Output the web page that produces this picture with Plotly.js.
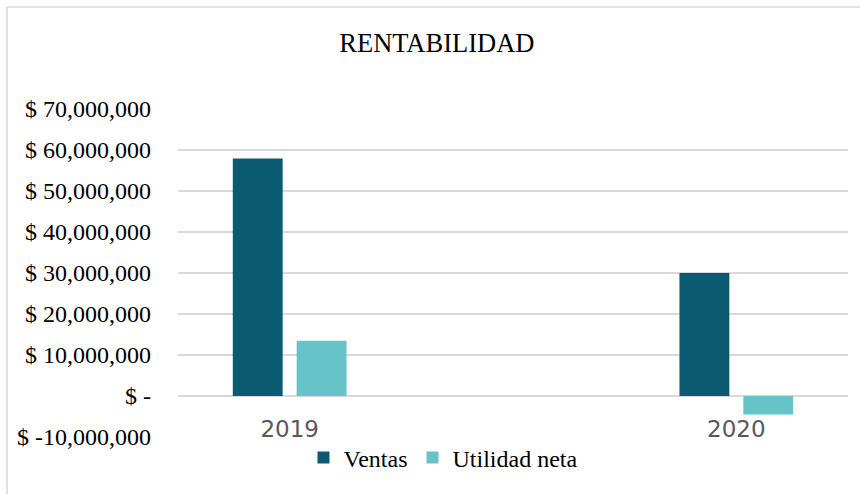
<!DOCTYPE html>
<html>
<head>
<meta charset="utf-8">
<script src="https://cdn.plot.ly/plotly-3.0.1.min.js"></script>
<style>
  html, body { margin: 0; padding: 0; background: #ffffff; }
  #chart { width: 860px; height: 494px; }
</style>
</head>
<body>
<div id="chart"></div>
<script>
// ---- data ----
const years = ["2019", "2020"];
const ventas = [57900000, 30000000];
const utilidadNeta = [13450000, -4500000];
const yTickVals = [-10000000, 0, 10000000, 20000000, 30000000, 40000000, 50000000, 60000000, 70000000];
const yTickText = ["$ -10,000,000", "$ -", "$ 10,000,000", "$ 20,000,000", "$ 30,000,000",
                   "$ 40,000,000", "$ 50,000,000", "$ 60,000,000", "$ 70,000,000"];

// ---- layout geometry (px) ----
const W = 860, H = 494;
const L = 178, R = 12, T = 109, B = 57;
const plotW = W - L - R, plotH = H - T - B;
const px2x = p => (p - L) / plotW;
const py2y = p => (H - B - p) / plotH;

const serif = "Liberation Serif, Times New Roman, serif";

const traces = [
  {
    type: "bar", name: "Ventas", x: years, y: ventas,
    marker: { color: "#0a5a72" }, hoverinfo: "skip"
  },
  {
    type: "bar", name: "Utilidad neta", x: years, y: utilidadNeta,
    marker: { color: "#66c3c8" }, hoverinfo: "skip"
  }
];

const layout = {
  width: W, height: H,
  margin: { l: L, r: R, t: T, b: B, pad: 0 },
  paper_bgcolor: "#ffffff", plot_bgcolor: "#ffffff",
  barmode: "group", bargap: 0.714, bargroupgap: 0.219,
  title: {
    text: "RENTABILIDAD",
    font: { family: serif, size: 26.5, color: "#000000" },
    xref: "container", yref: "container",
    x: 0.508, xanchor: "center", y: 1 - 43 / H, yanchor: "middle"
  },
  xaxis: {
    type: "category", range: [-0.25, 1.25],
    anchor: "free", position: py2y(413),
    showgrid: false, showline: false, zeroline: false, ticks: "",
    tickfont: { family: "DejaVu Sans, sans-serif", size: 23, color: "#595959" }
  },
  yaxis: {
    range: [-10000000, 70000000],
    tickvals: yTickVals, ticktext: yTickText,
    showgrid: true, gridcolor: "#d9d9d9", gridwidth: 1.5,
    zeroline: false, showline: false, ticks: "",
    ticklabelstandoff: 26,
    tickfont: { family: serif, size: 24, color: "#000000" }
  },
  showlegend: true,
  legend: {
    orientation: "h", xanchor: "center", yanchor: "middle",
    x: px2x(443), y: py2y(458),
    font: { family: serif, size: 24, color: "#000000" },
    bgcolor: "rgba(0,0,0,0)", traceorder: "normal"
  },
  shapes: [
    { type: "line", xref: "paper", yref: "paper",
      x0: px2x(7), x1: px2x(7), y0: py2y(H + 5), y1: py2y(7),
      line: { color: "#d9d9d9", width: 1.6 } },
    { type: "line", xref: "paper", yref: "paper",
      x0: px2x(7), x1: px2x(W + 5), y0: py2y(7), y1: py2y(7),
      line: { color: "#d9d9d9", width: 1.6 } }
  ]
};

Plotly.newPlot("chart", traces, layout, { staticPlot: true, displayModeBar: false });
</script>
</body>
</html>
